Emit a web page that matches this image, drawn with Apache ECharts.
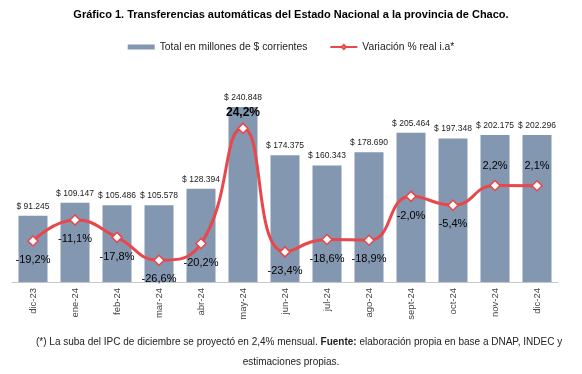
<!DOCTYPE html>
<html>
<head>
<meta charset="utf-8">
<script src="https://cdn.jsdelivr.net/npm/echarts@6/dist/echarts.min.js"></script>
<style>
html,body{margin:0;padding:0;background:#fff;}
#chart{width:582px;height:374px;}
</style>
</head>
<body>
<div id="chart"></div>
<script>
const categories = ['dic-23','ene-24','feb-24','mar-24','abr-24','may-24','jun-24','jul-24','ago-24','sept-24','oct-24','nov-24','dic-24'];
const totals = [91245,109147,105486,105578,128394,240848,174375,160343,178690,205464,197348,202175,202296];
const variation = [-19.2,-11.1,-17.8,-26.6,-20.2,24.2,-23.4,-18.6,-18.9,-2.0,-5.4,2.2,2.1];
const labelAbove = [false,false,false,false,false,true,false,false,false,false,false,true,true];

const narrow = "'Liberation Sans Narrow','Liberation Sans',sans-serif";
const sans = "'Liberation Sans',Arial,sans-serif";
const fmtThousands = v => '$ ' + String(v).replace(/\B(?=(\d{3})+(?!\d))/g, '.');
const fmtPct = v => v.toFixed(1).replace('.', ',') + '%';

const chart = echarts.init(document.getElementById('chart'));
chart.setOption({
  animation: false,
  backgroundColor: '#fff',
  title: {
    text: 'Gráfico 1. Transferencias automáticas del Estado Nacional a la provincia de Chaco.',
    left: 'center', top: 4,
    textStyle: {fontFamily: narrow, fontSize: 11, fontWeight: 'bold', color: '#000'}
  },
  legend: {
    top: 37, left: 'center', itemGap: 22, itemWidth: 27, itemHeight: 5,
    textStyle: {fontFamily: narrow, fontSize: 10.3, color: '#222'},
    data: [
      {name: 'Total en millones de $ corrientes', icon: 'rect'},
      {name: 'Variación % real i.a*'}
    ]
  },
  grid: {left: 12, right: 24, top: 64, bottom: 92, containLabel: false},
  xAxis: {
    type: 'category', data: categories,
    axisLine: {lineStyle: {color: '#c8c8c8'}},
    axisTick: {show: false},
    axisLabel: {rotate: 90, fontFamily: sans, fontSize: 9.5, color: '#444', margin: 6}
  },
  yAxis: [
    {type: 'value', min: 0, max: 300000, show: false, splitLine: {show: false}},
    {type: 'value', min: -35, max: 49, show: false, splitLine: {show: false}}
  ],
  series: [
    {
      name: 'Total en millones de $ corrientes', type: 'bar', data: totals,
      barWidth: 29, itemStyle: {color: '#8497B0'},
      label: {show: true, position: 'top', distance: 5, fontFamily: sans, fontSize: 8.5, color: '#222',
        formatter: p => fmtThousands(p.value)},
      z: 2
    },
    {
      name: 'Variación % real i.a*', type: 'line', yAxisIndex: 1, smooth: 0.5,
      data: variation.map((v, i) => ({
        value: v,
        label: {position: labelAbove[i] ? 'top' : 'bottom',
          distance: i === 5 ? 4 : 8,
          fontWeight: i === 5 ? 'bold' : 'normal', fontSize: i === 5 ? 12 : 11}
      })),
      lineStyle: {color: '#E8474B', width: 3},
      itemStyle: {color: '#fff', borderColor: '#E8474B', borderWidth: 1.5},
      symbol: 'diamond', symbolSize: 10,
      label: {show: true, distance: 8, fontFamily: sans, fontSize: 11, color: '#000',
        formatter: p => fmtPct(p.value)},
      z: 3
    }
  ],
  graphic: [
    {
      type: 'text', left: 36, top: 337,
      style: {
        rich: {
          n: {fontFamily: narrow, fontSize: 10, fill: '#222'},
          b: {fontFamily: narrow, fontSize: 10, fill: '#222', fontWeight: 'bold'}
        },
        text: '{n|(*) La suba del IPC de diciembre se proyectó en 2,4% mensual. }{b|Fuente:}{n| elaboración propia en base a DNAP, INDEC y}'
      }
    },
    {
      type: 'text', left: 'center', top: 357,
      style: {fontFamily: narrow, fontSize: 10, fill: '#222', text: 'estimaciones propias.'}
    }
  ]
});
</script>
</body>
</html>
